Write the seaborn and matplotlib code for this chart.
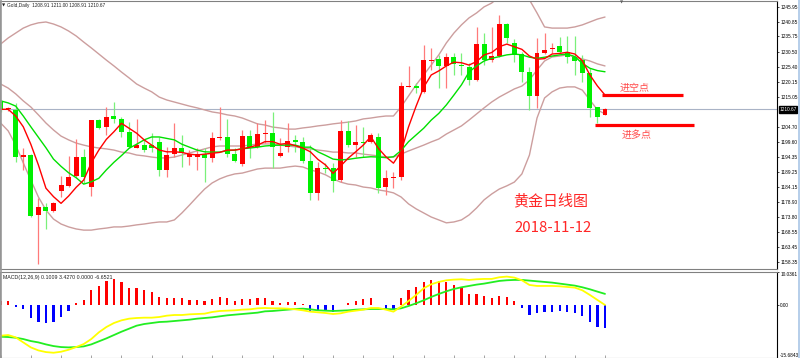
import matplotlib
matplotlib.use("Agg")
import matplotlib.pyplot as plt
import matplotlib.transforms as mtransforms
from matplotlib.lines import Line2D
from matplotlib import font_manager
import numpy as np
import pandas as pd
import seaborn as sns

# ---------------- data ----------------
open_ = [1213.3, 1210.7, 1210.5, 1194.4, 1195.0, 1174.4, 1177.2, 1175.8, 1182.7, 1184.4,
         1187.8, 1194.4, 1183.9, 1207.0, 1204.5, 1208.4, 1207.4, 1203.0, 1197.5, 1198.4,
         1198.4, 1199.6, 1189.9, 1195.2, 1197.3, 1194.4, 1194.2, 1195.2, 1194.1, 1200.7,
         1201.3, 1195.3, 1191.9, 1201.6, 1197.6, 1202.1, 1202.5, 1194.7, 1197.9, 1200.2,
         1199.6, 1192.9, 1182.1, 1190.4, 1190.4, 1186.4, 1203.2, 1198.4, 1199.6, 1199.6,
         1201.3, 1183.9, 1187.2, 1187.5, 1218.5, 1218.8, 1216.8, 1227.3, 1227.9, 1225.6,
         1228.6, 1225.9, 1225.3, 1220.8, 1233.1, 1227.6, 1229.0, 1240.0, 1233.4, 1229.7,
         1223.6, 1215.3, 1229.9, 1231.3, 1232.4, 1230.5, 1228.6, 1227.6, 1223.3, 1211.4,
         1208.91]
high = [1213.9, 1211.5, 1212.8, 1197.3, 1195.4, 1180.1, 1178.4, 1179.0, 1187.8, 1194.7,
        1200.4, 1197.0, 1207.2, 1207.3, 1211.6, 1213.3, 1208.2, 1206.4, 1207.3, 1200.2,
        1202.6, 1201.3, 1197.9, 1205.9, 1201.9, 1196.7, 1197.3, 1197.3, 1202.8, 1211.6,
        1207.3, 1197.3, 1203.6, 1203.6, 1205.9, 1207.0, 1209.9, 1200.7, 1205.9, 1201.9,
        1201.3, 1198.4, 1192.7, 1192.2, 1192.2, 1207.0, 1206.8, 1205.3, 1204.7, 1202.5,
        1202.5, 1189.9, 1189.2, 1220.2, 1225.6, 1219.6, 1232.8, 1231.7, 1229.4, 1229.9,
        1230.1, 1229.9, 1226.5, 1239.1, 1236.8, 1239.1, 1243.1, 1240.3, 1234.8, 1230.5,
        1225.3, 1235.1, 1237.0, 1233.4, 1235.6, 1235.9, 1235.9, 1229.4, 1224.8, 1211.6,
        1211.00]
low = [1209.8, 1210.1, 1192.7, 1189.9, 1173.7, 1157.5, 1169.5, 1175.4, 1180.7, 1184.1,
       1187.4, 1185.3, 1180.9, 1203.9, 1201.9, 1205.9, 1201.3, 1197.3, 1197.3, 1196.0,
       1196.0, 1187.8, 1187.4, 1194.4, 1191.0, 1191.6, 1189.9, 1185.8, 1192.7, 1200.2,
       1194.4, 1192.7, 1191.2, 1193.9, 1197.3, 1199.0, 1190.4, 1194.4, 1196.1, 1196.1,
       1192.2, 1179.5, 1179.5, 1188.8, 1182.4, 1185.8, 1197.9, 1194.4, 1194.4, 1199.0,
       1181.9, 1181.3, 1183.6, 1186.4, 1218.3, 1216.2, 1216.4, 1224.2, 1217.9, 1217.9,
       1222.5, 1222.5, 1219.0, 1220.5, 1225.9, 1227.1, 1228.8, 1233.4, 1227.1, 1220.2,
       1210.5, 1211.0, 1229.7, 1229.9, 1229.9, 1226.5, 1222.5, 1220.2, 1208.2, 1205.9,
       1208.91]
close = [1210.7, 1210.8, 1194.4, 1195.0, 1174.1, 1177.2, 1175.8, 1178.6, 1184.7, 1187.6,
         1194.4, 1187.4, 1207.0, 1204.2, 1208.2, 1207.5, 1202.8, 1197.6, 1198.4, 1196.7,
         1197.4, 1189.9, 1195.0, 1197.3, 1195.6, 1195.2, 1195.3, 1193.9, 1200.7, 1201.3,
         1195.2, 1192.9, 1201.6, 1197.6, 1202.1, 1202.5, 1197.9, 1195.6, 1199.9, 1199.6,
         1193.1, 1182.1, 1190.6, 1190.1, 1186.2, 1203.2, 1198.4, 1199.6, 1199.2, 1201.9,
         1183.6, 1187.2, 1187.5, 1218.7, 1218.8, 1218.1, 1227.6, 1227.6, 1225.6, 1228.6,
         1226.3, 1225.6, 1220.8, 1233.1, 1227.6, 1229.0, 1240.0, 1235.1, 1229.4, 1223.6,
         1215.3, 1229.9, 1231.1, 1231.7, 1230.5, 1228.6, 1227.4, 1223.3, 1211.0, 1208.2,
         1210.67]
ma_fast = [1210.7, 1210.7, 1208.4, 1204.7, 1198.7, 1191.6, 1183.6, 1180.7, 1178.4, 1180.9,
           1183.9, 1186.4, 1192.3, 1196.7, 1200.4, 1203.0, 1205.9, 1204.2, 1202.5, 1200.2,
           1198.4, 1196.7, 1196.1, 1196.1, 1195.9, 1195.3, 1195.0, 1195.3, 1195.6, 1195.9,
           1196.7, 1196.7, 1197.1, 1197.7, 1198.4, 1199.6, 1199.6, 1198.7, 1199.0, 1198.2,
           1197.4, 1196.1, 1193.5, 1191.6, 1188.7, 1191.2, 1193.9, 1196.1, 1198.4, 1201.3,
           1197.3, 1194.4, 1192.2, 1196.1, 1204.7, 1211.8, 1218.3, 1222.5, 1223.9, 1225.6,
           1226.9, 1226.7, 1225.9, 1227.1, 1229.4, 1230.2, 1232.2, 1233.1, 1232.2, 1231.3,
           1229.0, 1227.9, 1228.1, 1229.7, 1229.9, 1230.3, 1229.7, 1227.4, 1222.5, 1218.7,
           1215.6]
ma_slow = [1213.6, 1212.9, 1211.8, 1208.4, 1204.7, 1201.1, 1197.5, 1193.6, 1191.1, 1188.9,
           1187.2, 1185.0, 1185.8, 1187.0, 1189.9, 1192.5, 1194.8, 1197.3, 1198.7, 1200.2,
           1201.2, 1201.2, 1200.7, 1200.2, 1198.7, 1197.7, 1196.7, 1196.1, 1196.0, 1196.0,
           1196.5, 1196.7, 1197.2, 1197.4, 1197.7, 1198.1, 1198.3, 1198.4, 1198.4, 1198.4,
           1197.7, 1197.7, 1196.1, 1194.9, 1193.6, 1193.3, 1193.5, 1193.9, 1194.2, 1194.4,
           1194.3, 1194.1, 1194.4, 1196.5, 1199.6, 1201.9, 1204.2, 1207.0, 1209.3, 1212.2,
           1215.6, 1219.1, 1223.5, 1225.6, 1227.3, 1228.2, 1228.8, 1229.4, 1229.7, 1229.4,
           1228.6, 1228.2, 1228.6, 1229.0, 1229.4, 1229.7, 1228.8, 1226.5, 1224.8, 1224.0,
           1223.6]
bb_upper = [1233.1, 1235.2, 1236.9, 1238.6, 1239.7, 1240.4, 1240.7, 1240.0, 1239.0, 1237.6,
            1235.9, 1233.8, 1231.8, 1229.7, 1227.6, 1225.6, 1223.5, 1221.5, 1219.4, 1218.0,
            1216.7, 1214.9, 1213.9, 1213.2, 1212.5, 1211.8, 1211.2, 1210.5, 1209.8, 1209.4,
            1208.8, 1208.4, 1207.7, 1206.7, 1205.7, 1205.3, 1204.6, 1204.3, 1203.9, 1203.9,
            1204.3, 1204.6, 1205.0, 1205.3, 1205.7, 1206.0, 1206.3, 1206.7, 1207.4, 1207.7,
            1208.1, 1208.4, 1208.4, 1211.5, 1215.3, 1219.1, 1222.5, 1225.9, 1229.4, 1233.5,
            1236.9, 1239.7, 1242.1, 1243.8, 1245.9, 1247.2, 1249.3, 1250.7, 1251.3, 1250.7,
            1248.3, 1243.8, 1239.0, 1238.6, 1238.6, 1238.6, 1239.0, 1239.7, 1240.7, 1241.7,
            1242.4]
bb_mid = [1219.4, 1218.0, 1216.0, 1213.6, 1211.5, 1208.8, 1206.0, 1203.6, 1201.5, 1200.2,
          1199.1, 1198.4, 1197.8, 1197.4, 1197.1, 1196.7, 1196.0, 1195.7, 1195.0, 1194.7,
          1194.3, 1194.0, 1194.0, 1194.3, 1195.0, 1195.7, 1196.4, 1197.1, 1197.8, 1198.1,
          1198.1, 1198.1, 1198.1, 1198.4, 1198.8, 1198.8, 1198.8, 1198.4, 1198.1, 1197.8,
          1197.4, 1197.1, 1196.7, 1196.4, 1196.0, 1196.0, 1195.7, 1195.7, 1195.3, 1195.0,
          1194.7, 1194.3, 1194.3, 1195.3, 1196.4, 1197.4, 1198.4, 1199.5, 1200.5, 1202.2,
          1203.6, 1205.0, 1207.0, 1209.1, 1211.2, 1213.2, 1214.9, 1216.3, 1217.7, 1218.7,
          1220.8, 1224.2, 1227.3, 1228.7, 1229.0, 1229.4, 1228.7, 1228.0, 1227.3, 1226.3,
          1225.6]
bb_lower = [1206.0, 1203.3, 1198.4, 1192.3, 1186.4, 1180.6, 1176.1, 1173.0, 1171.3, 1170.3,
            1169.6, 1169.2, 1169.2, 1169.6, 1169.9, 1170.3, 1170.3, 1170.6, 1171.0, 1171.3,
            1171.7, 1172.0, 1172.0, 1172.7, 1175.1, 1177.8, 1180.6, 1183.3, 1185.4, 1186.8,
            1187.8, 1188.5, 1188.8, 1189.5, 1190.2, 1190.5, 1190.5, 1190.5, 1190.9, 1191.2,
            1190.9, 1189.9, 1189.2, 1188.2, 1186.8, 1185.7, 1185.0, 1184.7, 1184.0, 1183.7,
            1183.0, 1182.6, 1182.0, 1180.6, 1178.2, 1176.5, 1175.1, 1173.7, 1172.7, 1171.7,
            1172.0, 1172.7, 1174.4, 1176.8, 1179.6, 1181.6, 1183.3, 1184.4, 1185.7, 1188.5,
            1195.0, 1207.7, 1214.6, 1216.7, 1218.0, 1218.4, 1218.4, 1217.3, 1213.9, 1210.5,
            1209.1]
macd_hist = [1.3, 1.3, -0.4, -1.2, -3.9, -4.9, -5.4, -4.9, -3.4, -1.6,
             0.8, 1.6, 4.6, 5.9, 7.3, 7.9, 6.9, 5.3, 5.1, 4.6,
             4.1, 2.4, 2.1, 2.1, 2.1, 1.6, 1.6, 1.3, 1.9, 2.4,
             2.1, 1.3, 1.9, 1.9, 2.1, 2.1, 1.4, 0.8, 1.1, 1.1,
             0.4, -1.6, -1.6, -1.7, -1.9, 0.15, 0.8, 1.4, 1.8, 2.1,
             0.1, -1.4, -1.4, 2.3, 4.6, 5.6, 7.1, 7.6, 7.3, 6.9,
             6.1, 5.1, 3.5, 3.5, 2.9, 2.1, 2.8, 2.4, 1.3, -0.7,
             -2.9, -2.4, -2.1, -1.9, -1.7, -1.9, -2.4, -3.1, -4.9, -6.4,
             -6.6521]
macd_dif = [-9.1, -8.9, -9.6, -11.1, -12.6, -13.5, -14.0, -14.2, -13.9, -13.3,
            -12.5, -11.6, -10.1, -8.1, -6.5, -5.3, -4.5, -4.0, -3.8, -3.7,
            -3.7, -3.5, -3.1, -2.9, -2.9, -2.7, -2.6, -2.5, -2.0, -1.7,
            -1.6, -1.5, -1.3, -1.2, -0.9, -0.8, -0.9, -0.9, -1.0, -1.2,
            -1.5, -1.9, -2.1, -2.3, -2.6, -2.4, -1.9, -1.6, -1.3, -0.8,
            -0.8, -1.3, -1.9, -0.4, 1.3, 3.1, 5.1, 6.3, 7.0, 7.5,
            7.7, 7.8, 7.6, 7.8, 7.9, 7.9, 8.4, 8.6, 8.3, 7.5,
            6.1, 5.8, 5.8, 5.8, 5.7, 5.5, 5.3, 4.5, 3.1, 1.6,
            0.1009]
macd_dea = [-9.4, -9.5, -9.7, -10.1, -10.7, -11.1, -11.7, -12.2, -12.5, -12.6,
            -12.5, -12.3, -11.7, -10.8, -9.9, -8.9, -7.9, -7.0, -6.1, -5.6,
            -5.3, -5.0, -4.9, -4.7, -4.5, -4.3, -4.0, -3.8, -3.6, -3.3,
            -3.0, -2.8, -2.6, -2.4, -2.2, -1.8, -1.7, -1.5, -1.3, -1.1,
            -1.0, -1.2, -1.5, -1.6, -1.7, -1.6, -1.5, -1.3, -1.2, -1.1,
            -1.1, -1.1, -1.2, -0.9, -0.2, 0.6, 1.5, 2.5, 3.4, 4.2,
            4.9, 5.4, 5.8, 6.2, 6.5, 6.9, 7.3, 7.5, 7.6, 7.6,
            7.4, 7.2, 7.0, 6.8, 6.5, 6.2, 5.9, 5.4, 4.8, 4.1,
            3.4270]

price_ticks = [1245.95, 1240.85, 1235.75, 1230.50, 1225.40, 1220.15, 1215.05, 1204.70,
               1199.60, 1194.35, 1189.25, 1184.15, 1178.90, 1173.80, 1168.55, 1163.45, 1158.35]
macd_ticks = [10.0361, 0.0, -15.6843]
macd_tick_labels = ["10.0361", "0.00", "-15.6843"]
bid_price = 1210.67
short_entry = 1215.6   # 进空点
long_entry = 1205.3    # 进多点
header_text = "Gold,Daily  1208.91 1211.00 1208.91 1210.67"
macd_text = "MACD(12,26,9) 0.1009 3.4270 0.0000 -6.6521"
title_text = "黄金日线图"
date_text = "2018-11-12"
short_label = "进空点"
long_label = "进多点"

n = len(close)
for arr in (open_, high, low, ma_fast, ma_slow, bb_upper, bb_mid, bb_lower,
            macd_hist, macd_dif, macd_dea):
    assert len(arr) == n
df = pd.DataFrame({"i": np.arange(n), "open": open_, "high": high, "low": low,
                   "close": close, "ma_fast": ma_fast, "ma_slow": ma_slow,
                   "bb_upper": bb_upper, "bb_mid": bb_mid, "bb_lower": bb_lower,
                   "hist": macd_hist, "dif": macd_dif, "dea": macd_dea})

# ---------------- style ----------------
sns.set_theme(style="white")
avail = {f.name for f in font_manager.fontManager.ttflist}
small = "Liberation Sans Narrow" if "Liberation Sans Narrow" in avail else "Liberation Sans"
plt.rcParams["font.family"] = [small, "DejaVu Sans"]
cjk = ["Noto Sans CJK SC", "DejaVu Sans"]
TICK_FS = 4.3 if small == "Liberation Sans Narrow" else 3.4

RED = "#ff0000"
GREEN = "#00f000"
RED_W = "#ff7a7a"
GREEN_W = "#7af07a"
BB = "#cc9e9e"
MA_G = "#00e000"
GRID = "#808080"

W, H = 800, 358
fig = plt.figure(figsize=(W / 100, H / 100), dpi=100, facecolor="white")


def rect(x0, y0, x1, y1):
    return [x0 / W, 1 - y1 / H, (x1 - x0) / W, (y1 - y0) / H]


ax = fig.add_axes(rect(0, 1, 777, 269))
axm = fig.add_axes(rect(0, 271.8, 777, 357.7), sharex=ax)

# ---------------- main panel ----------------
ax.axhline(bid_price, color="#a9b3c6", lw=0.8, zorder=1)
for col in ("bb_upper", "bb_mid", "bb_lower"):
    sns.lineplot(data=df, x="i", y=col, ax=ax, color=BB, linewidth=1.0, zorder=2)

up = df["close"] >= df["open"]
ax.vlines(df["i"], df["low"], df["high"], colors=np.where(up, RED_W, GREEN_W),
          lw=0.9, zorder=3)
body_lo = np.minimum(df["open"], df["close"])
body_h = np.maximum((df["close"] - df["open"]).abs(), 0.35)
ax.bar(df["i"], body_h, bottom=body_lo, width=0.66, color=np.where(up, RED, GREEN),
       linewidth=0, zorder=4)

sns.lineplot(data=df, x="i", y="ma_slow", ax=ax, color=MA_G, linewidth=1.0, zorder=5)
sns.lineplot(data=df, x="i", y="ma_fast", ax=ax, color=RED, linewidth=1.0, zorder=6)

# entry levels
ax.hlines([short_entry], 79.6, 90.3, colors=RED, lw=2.3, zorder=7)
ax.hlines([long_entry], 78.7, 91.8, colors=RED, lw=2.3, zorder=7)

ax.set_xlim(-0.6 / 7.555, 776.4 / 7.555)
ax.set_ylim(1155.844, 1247.908)
ax.set_xlabel("")
ax.set_ylabel("")
ax.yaxis.tick_right()
ax.set_yticks(price_ticks)
ax.set_yticklabels([f"{t:.2f}" for t in price_ticks])
ax.tick_params(axis="y", which="both", right=True, left=False, labelsize=TICK_FS, length=1.5,
               width=0.5, pad=0.8, colors="#000000")
ax.tick_params(axis="x", bottom=False, labelbottom=False)
for s in ax.spines.values():
    s.set_color(GRID)
    s.set_linewidth(0.8)
ax.spines["right"].set_color("#000000")

# bid label box
trans = mtransforms.blended_transform_factory(ax.transAxes, ax.transData)
ax.text(1.003, bid_price, f"{bid_price:.2f}", transform=trans, ha="left", va="center",
        fontsize=TICK_FS, color="white", clip_on=False, zorder=10,
        bbox=dict(facecolor="black", edgecolor="black", pad=0.5))

# annotations (positions in axes fraction)
ax.text(513 / 777, (269 - 201) / 268, title_text, transform=ax.transAxes, family=cjk,
        fontsize=10.8, color="#ff2626", ha="left", va="center")
ax.text(514 / 777, (269 - 228) / 268, date_text, transform=ax.transAxes, family=cjk,
        fontsize=10.8, color="#ff2626", ha="left", va="center")
ax.text(620 / 777, (269 - 88) / 268, short_label, transform=ax.transAxes, family=cjk,
        fontsize=7.2, color="#ff4a4a", ha="left", va="center")
ax.text(622 / 777, (269 - 135) / 268, long_label, transform=ax.transAxes, family=cjk,
        fontsize=7.2, color="#ff4a4a", ha="left", va="center")

# ---------------- MACD panel ----------------
h = np.asarray(macd_hist)
axm.bar(df["i"], df["hist"], width=0.3, color=np.where(h >= 0, RED, "#0000ff"),
        linewidth=0, zorder=2)
sns.lineplot(data=df, x="i", y="dea", ax=axm, color="#22ee22", linewidth=1.3, zorder=3)
sns.lineplot(data=df, x="i", y="dif", ax=axm, color="#ffff00", linewidth=1.3, zorder=4)
axm.set_ylim(-15.6843, 10.0361)
axm.set_xlabel("")
axm.set_ylabel("")
axm.yaxis.tick_right()
axm.set_yticks(macd_ticks)
axm.set_yticklabels(macd_tick_labels)
axm.tick_params(axis="y", right=True, left=False, labelsize=TICK_FS, length=1.5, width=0.5,
                pad=0.8, colors="#000000")
labs = axm.get_yticklabels()
labs[0].set_va("top")
labs[2].set_va("bottom")
axm.set_xticks(list(range(0, n, 4)))
axm.tick_params(axis="x", bottom=True, labelbottom=False, direction="in", length=2,
                width=0.5, color=GRID)
for s in axm.spines.values():
    s.set_color(GRID)
    s.set_linewidth(0.8)
axm.spines["right"].set_color("#000000")
ax.set_xlim(-0.6 / 7.555, 776.4 / 7.555)

# ---------------- header texts / frame ----------------
fig.text(2 / W, 1 - 5.5 / H, "▼", fontsize=3, family="DejaVu Sans", color="#202020",
         va="center", ha="left")
fig.text(7 / W, 1 - 5.5 / H, header_text, fontsize=3.4, color="#202020",
         va="center", ha="left")
fig.text(3 / W, 1 - 277.5 / H, macd_text, fontsize=3.8, color="#202020",
         va="center", ha="left")
fig.text(622 / W, 1 - 2 / H, "▼", fontsize=3, family="DejaVu Sans", color="#606060",
         va="center", ha="center")
fig.add_artist(Line2D([798.8 / W, 798.8 / W], [0, 1], color="#a9c6e6", lw=1.2))
fig.add_artist(Line2D([0.5 / W, 0.5 / W], [0, 1], color="#9a9a9a", lw=1.2))

fig.savefig("out.png", dpi=100, facecolor="white")
